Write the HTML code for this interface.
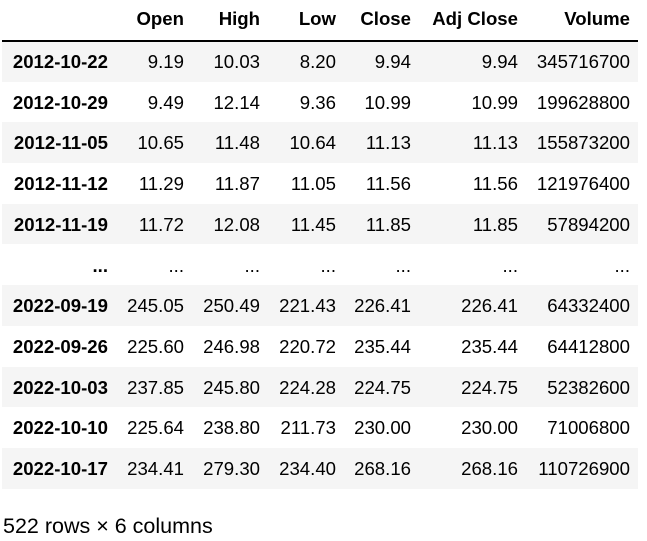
<!DOCTYPE html>
<html><head><meta charset="utf-8"><style>
body{margin:0;width:647px;height:541px;background:#fff;font-family:"Liberation Sans",Arial,sans-serif;font-size:18.6px;color:#000;position:relative;overflow:hidden}
.r{position:absolute;left:2px;width:636px;height:40.7px}
.g{background:#f5f5f5}
.c{position:absolute;top:1px;line-height:40.7px;text-align:right;white-space:nowrap}
.b{font-weight:bold}
.hl{position:absolute;left:2px;width:636px;top:40px;height:1.5px;background:#000}
.foot{position:absolute;left:3px;top:514px;font-size:21.5px}
</style></head><body>
<div id="t"></div>
<div class="hl"></div>
<div class="foot">522 rows × 6 columns</div>
<script>
const headers=["","Open","High","Low","Close","Adj Close","Volume"];
const dates=["2012-10-22","2012-10-29","2012-11-05","2012-11-12","2012-11-19","...","2022-09-19","2022-09-26","2022-10-03","2022-10-10","2022-10-17"];
const openV=["9.19","9.49","10.65","11.29","11.72","...","245.05","225.60","237.85","225.64","234.41"];
const highV=["10.03","12.14","11.48","11.87","12.08","...","250.49","246.98","245.80","238.80","279.30"];
const lowV=["8.20","9.36","10.64","11.05","11.45","...","221.43","220.72","224.28","211.73","234.40"];
const closeV=["9.94","10.99","11.13","11.56","11.85","...","226.41","235.44","224.75","230.00","268.16"];
const adjV=["9.94","10.99","11.13","11.56","11.85","...","226.41","235.44","224.75","230.00","268.16"];
const volV=["345716700","199628800","155873200","121976400","57894200","...","64332400","64412800","52382600","71006800","110726900"];
const rights=[108,184,260,336,411,518,630];
const t=document.getElementById('t');
function row(vals,y,gray,isHead,name){
  const r=document.createElement('div');
  r.className='r'+(gray?' g':'');
  r.style.top=y+'px';
  
  
  vals.forEach((v,i)=>{
    const c=document.createElement('div');
    c.className='c'+((isHead||i===0)?' b':'');
    c.style.right=(638-rights[i])+'px';
    c.textContent=v;
    
    
    r.appendChild(c);
  });
  t.appendChild(r);
}
row(headers,-2,false,true,'header-row');
dates.forEach((d,k)=>{
  row([d,openV[k],highV[k],lowV[k],closeV[k],adjV[k],volV[k]],41+k*40.7,k%2===0&&d!=="...",false,'data-row');
});
</script>
</body></html>
